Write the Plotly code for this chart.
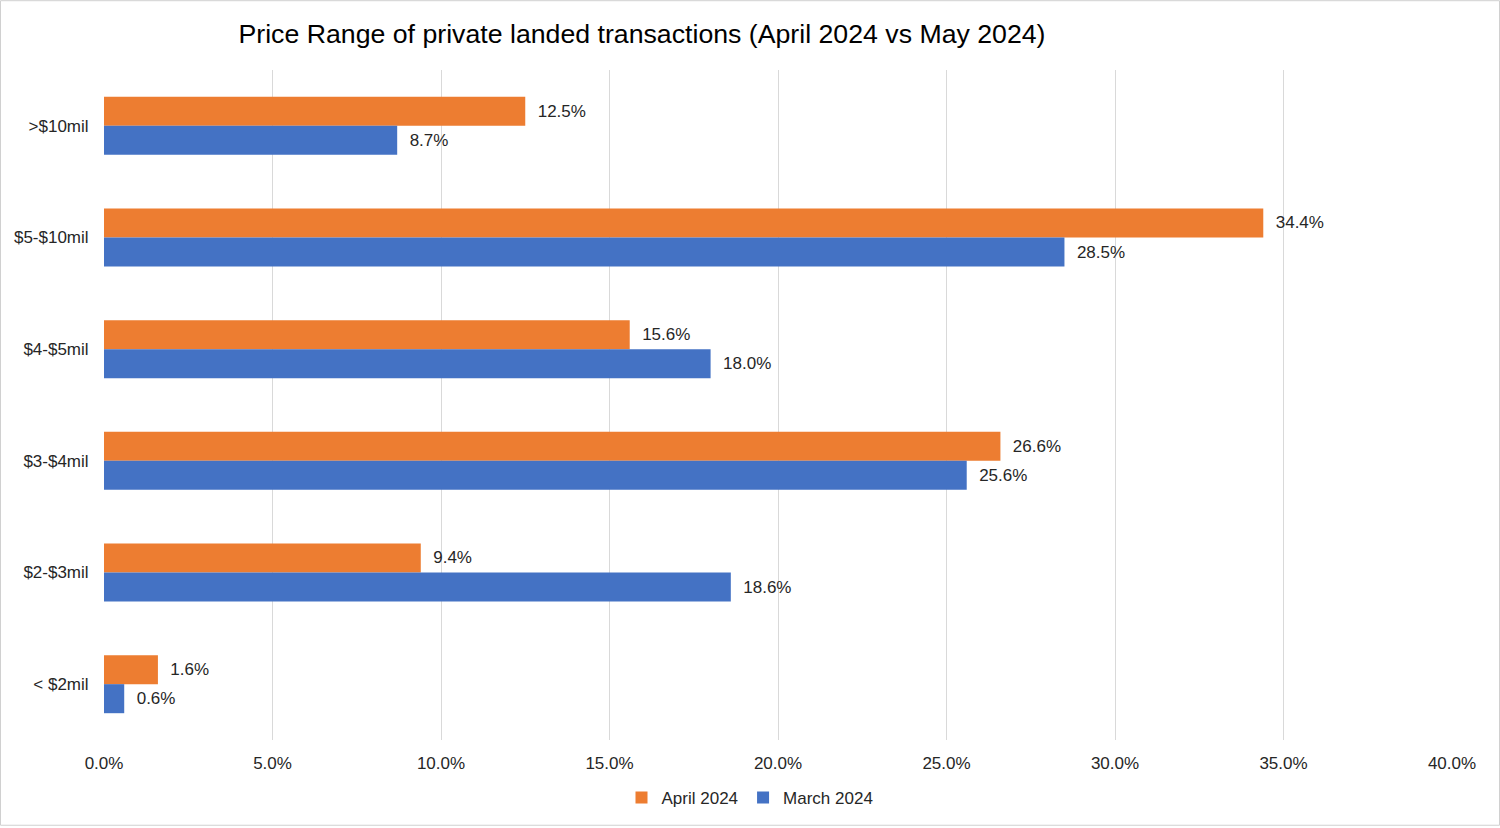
import plotly.graph_objects as go

categories = [">$10mil", "$5-$10mil", "$4-$5mil", "$3-$4mil", "$2-$3mil", "< $2mil"]
april_2024 = [12.5, 34.4, 15.6, 26.6, 9.4, 1.6]
march_2024 = [8.7, 28.5, 18.0, 25.6, 18.6, 0.6]
x_ticks = [0, 5, 10, 15, 20, 25, 30, 35, 40]

FONT = "Liberation Sans, Arial, sans-serif"
W, H = 1500, 828
L, R, T, B = 104, 48, 70, 86
pw, ph = W - L - R, H - T - B
PAD = "\u00a0\u00a0"

fig = go.Figure()
fig.add_trace(go.Bar(
    name="April 2024", y=categories, x=april_2024, orientation="h",
    marker=dict(color="#ED7D31", line=dict(width=0)),
    text=[f"{PAD}{v:.1f}%" for v in april_2024], textposition="outside",
    textfont=dict(family=FONT, size=17, color="#262626"), cliponaxis=False,
))
fig.add_trace(go.Bar(
    name="March 2024", y=categories, x=march_2024, orientation="h",
    marker=dict(color="#4472C4", line=dict(width=0)),
    text=[f"{PAD}{v:.1f}%" for v in march_2024], textposition="outside",
    textfont=dict(family=FONT, size=17, color="#262626"), cliponaxis=False,
))

fig.update_layout(
    width=W, height=H,
    margin=dict(l=L, r=R, t=T, b=B),
    paper_bgcolor="white", plot_bgcolor="white",
    barmode="group", bargap=0.48, bargroupgap=0,
    font=dict(family=FONT, size=17, color="#262626"),
    title=dict(text="Price Range of private landed transactions (April 2024 vs May 2024)",
               x=0.428, xref="container", xanchor="center",
               y=1 - 34 / H, yref="container", yanchor="middle",
               font=dict(family=FONT, size=26.7, color="#000000")),
    legend=dict(orientation="h", x=(750 - L) / pw, xanchor="center",
                y=-(800 - (T + ph)) / ph, yanchor="middle",
                font=dict(family=FONT, size=17, color="#262626"),
                itemwidth=30, traceorder="normal"),
    shapes=[dict(type="rect", xref="paper", yref="paper",
                 x0=-(L - 0.5) / pw, x1=1 + (R - 0.5) / pw,
                 y0=-(B - 0.5) / ph, y1=1 + (T - 0.5) / ph,
                 line=dict(color="#D0D0D0", width=1), layer="below")],
)
fig.update_xaxes(
    range=[0, 40], tickvals=x_ticks, ticktext=[f"{v:.1f}%" for v in x_ticks],
    showgrid=True, gridcolor="#D9D9D9", gridwidth=1, zeroline=False,
    showline=False, ticks="outside", ticklen=8, tickcolor="white",
    tickfont=dict(family=FONT, size=17, color="#262626"),
)
fig.update_yaxes(
    autorange="reversed", showgrid=False, showline=False, zeroline=False,
    ticks="outside", ticklen=11, tickcolor="white",
    tickfont=dict(family=FONT, size=17, color="#262626"),
)

fig.write_html("out.html")
